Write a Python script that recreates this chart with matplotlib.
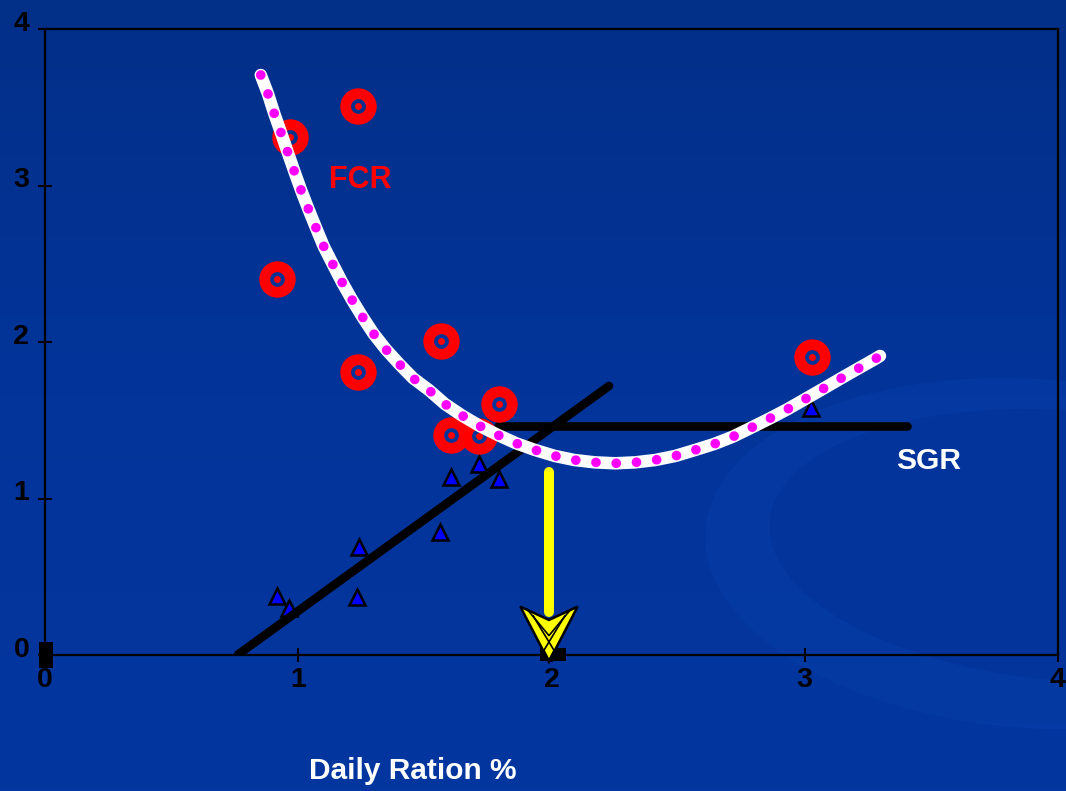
import numpy as np
import matplotlib
matplotlib.use("Agg")
import matplotlib.pyplot as plt
from matplotlib.patches import Polygon, Rectangle, Ellipse
from matplotlib.transforms import ScaledTranslation
from matplotlib.colors import LinearSegmentedColormap

# ---------------- data ----------------
ticks = [0, 1, 2, 3, 4]
tick_labels = ["0", "1", "2", "3", "4"]

# FCR observations (red rings)
fcr_x = [0.967, 1.235, 0.915, 1.564, 1.237, 1.794, 1.603, 1.714, 3.027]
fcr_y = [3.308, 3.508, 2.405, 2.006, 1.806, 1.604, 1.406, 1.401, 1.906]

# SGR observations (blue triangles)
sgr_x = [0.915, 0.965, 1.241, 1.233, 1.560, 1.603, 1.713, 1.793, 3.025]
sgr_y = [0.377, 0.298, 0.692, 0.369, 0.786, 1.139, 1.220, 1.123, 1.576]

# FCR fitted curve
fcr_curve_x = [0.852, 0.881, 0.905, 0.932, 0.958, 0.984, 1.011, 1.040, 1.070, 1.100,
               1.136, 1.172, 1.211, 1.253, 1.296, 1.346, 1.399, 1.454, 1.516, 1.579,
               1.645, 1.715, 1.788, 1.860, 1.935, 2.013, 2.090, 2.171, 2.251, 2.331,
               2.410, 2.489, 2.567, 2.642, 2.716, 2.788, 2.860, 2.931, 3.000, 3.069,
               3.139, 3.207, 3.277, 3.297]
fcr_curve_y = [3.706, 3.583, 3.461, 3.337, 3.214, 3.093, 2.971, 2.850, 2.730, 2.613,
               2.498, 2.385, 2.273, 2.162, 2.056, 1.953, 1.859, 1.768, 1.693, 1.604,
               1.532, 1.465, 1.406, 1.353, 1.310, 1.272, 1.246, 1.231, 1.225, 1.231,
               1.246, 1.272, 1.310, 1.348, 1.395, 1.452, 1.510, 1.570, 1.634, 1.698,
               1.764, 1.827, 1.891, 1.911]

# SGR broken-line fit
sgr_rise_x = [0.763, 2.227]
sgr_rise_y = [0.004, 1.719]
sgr_flat_x = [1.790, 3.404]
sgr_flat_y = [1.463, 1.463]

# optimum ration arrow
arrow_x = 1.990
arrow_top = 1.169
arrow_head_y = 0.309
arrow_notch_y = 0.224
arrow_tip_y = -0.043
arrow_half_w = 0.113

# ---------------- figure ----------------
W, H, DPI = 1066, 791, 100
plt.rcParams['font.family'] = ['Liberation Sans', 'DejaVu Sans']
plt.rcParams['font.weight'] = 'bold'
fig = plt.figure(figsize=(W / DPI, H / DPI), dpi=DPI)

# background gradient
bg = fig.add_axes([0, 0, 1, 1], zorder=-10)
grad = np.linspace(0, 1, 256).reshape(-1, 1)
cmap = LinearSegmentedColormap.from_list("bg", ["#022f88", "#03349a", "#0336a0"])
bg.imshow(grad, aspect='auto', cmap=cmap, extent=[0, 1, 0, 1], origin='upper')
# subtle swoosh at bottom right
bg.add_patch(Ellipse((0.97, 0.30), 0.62, 0.44, angle=-8, facecolor='#073da6',
                     edgecolor='none', alpha=0.6))
bg.add_patch(Ellipse((1.00, 0.31), 0.56, 0.34, angle=-8, facecolor='#03349c',
                     edgecolor='none', alpha=1.0))
bg.set_xlim(0, 1)
bg.set_ylim(0, 1)
bg.axis('off')

left, right = 45 / W, 1058 / W
bottom, top = 1 - 655 / H, 1 - 29 / H
ax = fig.add_axes([left, bottom, right - left, top - bottom])
ax.set_facecolor('none')
ax.set_xlim(0, 4)
ax.set_ylim(0, 4)

for s in ax.spines.values():
    s.set_color('black')
    s.set_linewidth(1.6)

ax.set_xticks(ticks)
ax.set_xticklabels(tick_labels, fontweight='bold')
ax.set_yticks(ticks)
ax.set_yticklabels(tick_labels, fontweight='bold')
ax.tick_params(direction='inout', length=9.6, width=1.5, color='black',
               labelsize=20.5, labelcolor='black')
ax.tick_params(axis='x', pad=4)
ax.tick_params(axis='y', pad=6.5)
for lab in ax.get_yticklabels():
    lab.set_transform(lab.get_transform() + ScaledTranslation(0, 6 / 72, fig.dpi_scale_trans))

# SGR points (triangles)
ax.plot(sgr_x, sgr_y, linestyle='none', marker='^', markersize=11,
        markerfacecolor='#0000ff', markeredgecolor='black', markeredgewidth=1.8,
        zorder=3)

# SGR fit lines
ax.plot(sgr_rise_x, sgr_rise_y, color='black', lw=6.2, solid_capstyle='round', zorder=4)
ax.plot(sgr_flat_x, sgr_flat_y, color='black', lw=6.2, solid_capstyle='round', zorder=4)

# FCR rings
ax.plot(fcr_x, fcr_y, linestyle='none', marker='o', markersize=18.4,
        markerfacecolor='none', markeredgecolor='#ff0000', markeredgewidth=7.8, zorder=5)
ax.plot(fcr_x, fcr_y, linestyle='none', marker='o', markersize=5,
        markerfacecolor='#ff0000', markeredgecolor='none', zorder=5)

# FCR curve: white band with magenta dots
ax.plot(fcr_curve_x, fcr_curve_y, color='white', lw=9.0, solid_capstyle='round',
        solid_joinstyle='round', zorder=6)
mag_lw = 7.0
ax.plot(fcr_curve_x, fcr_curve_y, color='#ff00ff', lw=mag_lw,
        linestyle=(0, (0.001, 14.6 / mag_lw)), dash_capstyle='round', zorder=7)

# yellow arrow
ax.plot([arrow_x, arrow_x], [arrow_top, arrow_notch_y + 0.05], color='#ffff00', lw=7.2,
        solid_capstyle='round', zorder=8, clip_on=False)
head = Polygon([[arrow_x - arrow_half_w, arrow_head_y], [arrow_x, arrow_notch_y],
                [arrow_x + arrow_half_w, arrow_head_y], [arrow_x, arrow_tip_y]],
               closed=True, facecolor='#ffff00', edgecolor='black', lw=1.8,
               joinstyle='miter', zorder=9, clip_on=False)
ax.add_patch(head)
# inner decorative lines of the arrowhead
ax.plot([arrow_x - arrow_half_w * 0.75, arrow_x, arrow_x + arrow_half_w * 0.75],
        [arrow_head_y - 0.02, arrow_notch_y - 0.10, arrow_head_y - 0.02],
        color='black', lw=1.2, zorder=10, clip_on=False)
ax.plot([arrow_x - arrow_half_w * 0.55, arrow_x + 0.02, arrow_x],
        [arrow_head_y - 0.06, 0.03, arrow_tip_y + 0.01],
        color='black', lw=1.2, zorder=10, clip_on=False)
ax.plot([arrow_x + arrow_half_w * 0.55, arrow_x - 0.02, arrow_x],
        [arrow_head_y - 0.06, 0.03, arrow_tip_y + 0.01],
        color='black', lw=1.2, zorder=10, clip_on=False)

# small black blocks on the axis
ax.add_patch(Rectangle((1.955, -0.036), 0.102, 0.079, facecolor='black',
                       edgecolor='none', zorder=8, clip_on=False))
ax.add_patch(Rectangle((-0.0225, -0.085), 0.0525, 0.17, facecolor='black',
                       edgecolor='none', zorder=8, clip_on=False))

# labels
ax.text(1.246, 2.982, "FCR", color='#ff0000', fontsize=22, fontweight='bold',
        ha='center', va='baseline', zorder=11)
ax.text(3.489, 1.189, "SGR", color='white', fontsize=21.5, fontweight='bold',
        ha='center', va='baseline', zorder=11)
fig.text(412.8 / W, 1 - 779 / H, "Daily Ration %", color='white', fontsize=21.5,
         fontweight='bold', ha='center', va='baseline')

fig.savefig("out.png", dpi=DPI)
